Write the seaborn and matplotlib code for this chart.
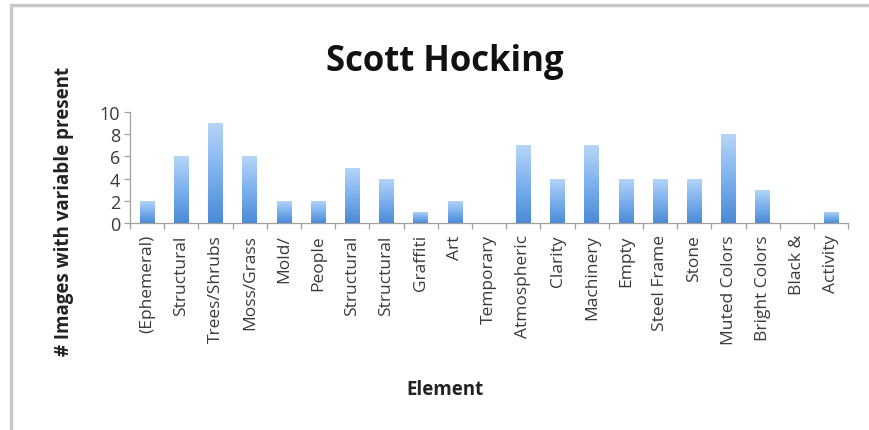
import numpy as np
import pandas as pd
import matplotlib
matplotlib.use("Agg")
import matplotlib.pyplot as plt
from matplotlib.colors import LinearSegmentedColormap
from matplotlib.lines import Line2D
from matplotlib.transforms import ScaledTranslation
import seaborn as sns

elements = ["(Ephemeral)", "Structural", "Trees/Shrubs", "Moss/Grass", "Mold/",
            "People", "Structural", "Structural", "Graffiti", "Art", "Temporary",
            "Atmospheric", "Clarity", "Machinery", "Empty", "Steel Frame", "Stone",
            "Muted Colors", "Bright Colors", "Black &", "Activity"]
counts = [2, 6, 9, 6, 2, 2, 5, 4, 1, 2, 0, 7, 4, 7, 4, 4, 4, 8, 3, 0, 1]
y_ticks = [0, 2, 4, 6, 8, 10]

sns.set_theme(style="white")
plt.rcParams["font.family"] = ["Open Sans", "DejaVu Sans"]

df = pd.DataFrame({"pos": list(range(len(elements))), "count": counts})

fig = plt.figure(figsize=(8.7, 4.31), dpi=100)
ax = fig.add_axes([0.1495, 0.480, 0.8255, 0.258])

sns.barplot(data=df, x="pos", y="count", color="#6fa8e8", width=0.43,
            saturation=1, ax=ax, linewidth=0)

# vertical gradient fill for each bar, light at top to deeper blue at bottom
cmap = LinearSegmentedColormap.from_list("bar", ["#4a8ad6", "#7db1ee", "#b7d6f8"])
grad = np.linspace(0, 1, 256).reshape(-1, 1)
for patch in list(ax.patches):
    x0, y0 = patch.get_x(), patch.get_y()
    w, h = patch.get_width(), patch.get_height()
    if h <= 0:
        continue
    im = ax.imshow(grad, cmap=cmap, aspect="auto", origin="lower",
                   extent=[x0, x0 + w, y0, y0 + h], zorder=2)
    im.set_clip_path(patch)
    patch.set_facecolor("none")

ax.set_xlim(-0.5, len(elements) - 0.5)
ax.set_ylim(0, 10)
ax.set_yticks(y_ticks)
ax.set_yticklabels([str(t) for t in y_ticks], fontsize=13, color="#3a3a3a")
ax.set_xticks(range(len(elements)))
ax.set_xticklabels(elements, rotation=90, fontsize=12.5, color="#3a3a3a")
shift = ScaledTranslation(3 / 100, 0, fig.dpi_scale_trans)
for lbl in ax.get_xticklabels():
    lbl.set_transform(lbl.get_transform() + shift)
ax.set_xticks(np.arange(-0.5, len(elements), 1.0), minor=True)
ax.tick_params(axis="x", which="major", length=0, pad=8)
ax.tick_params(axis="x", which="minor", length=4, width=0.9, color="#a0a0a0",
               direction="out", bottom=True)
ax.tick_params(axis="y", which="major", length=4, width=0.9, color="#a0a0a0",
               direction="out", left=True, pad=3)

for side in ["top", "right"]:
    ax.spines[side].set_visible(False)
for side in ["left", "bottom"]:
    ax.spines[side].set_color("#a0a0a0")
    ax.spines[side].set_linewidth(0.9)

ax.set_xlabel("")
ax.set_ylabel("")
fig.text(0.5115, 0.857, "Scott Hocking", ha="center", va="center",
         fontsize=25, fontweight="bold", color="#111111")
fig.text(0.074, 0.51, "# Images with variable present", ha="center", va="center",
         rotation=90, fontsize=13.5, fontweight="bold", color="#222222")
fig.text(0.5115, 0.095, "Element", ha="center", va="center",
         fontsize=13.5, fontweight="bold", color="#222222")

# chart area frame: top and left edges
fig.add_artist(Line2D([0.0126, 1.0], [0.985, 0.985], transform=fig.transFigure,
                      color="#c6c6c6", linewidth=2.4))
fig.add_artist(Line2D([0.0126, 0.0126], [0.0, 0.985], transform=fig.transFigure,
                      color="#c6c6c6", linewidth=2.4))

fig.savefig("out.png", dpi=100)
